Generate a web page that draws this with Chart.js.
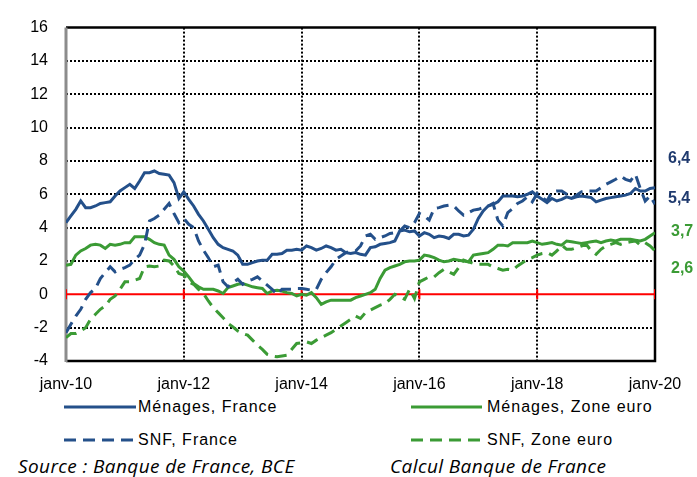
<!DOCTYPE html>
<html>
<head>
<meta charset="utf-8">
<script src="https://cdn.jsdelivr.net/npm/chart.js@4"></script>
<style>
  body { margin: 0; background: #fff; font-family: "Liberation Sans", Arial, sans-serif; }
  #wrap { position: relative; width: 697px; height: 477px; overflow: hidden; }
  #chart { position: absolute; left: 0; top: 0; }
  .end { position: absolute; font-weight: bold; font-size: 16px; line-height: 16px; }
  .leg { position: absolute; font-size: 16px; letter-spacing: 1px; line-height: 16px; color: #000; }
  .src { position: absolute; font-family: "Open Sans", Lato, sans-serif; font-style: italic; font-size: 19px; letter-spacing: 0.4px; line-height: 20px; color: #000; }
  svg { position: absolute; }
</style>
</head>
<body>
<div id="wrap">
  <canvas id="chart" width="697" height="395"></canvas>

  <div class="end" style="left:668px;top:150px;color:#1F3A6E">6,4</div>
  <div class="end" style="left:668px;top:190px;color:#1F3A6E">5,4</div>
  <div class="end" style="left:671px;top:223px;color:#3B9B35">3,7</div>
  <div class="end" style="left:671px;top:260px;color:#3B9B35">2,6</div>

  <svg style="left:0;top:395px" width="697" height="60">
    <line x1="64" y1="12" x2="136" y2="12" stroke="#24508A" stroke-width="3"/>
    <line x1="64" y1="45" x2="136" y2="45" stroke="#24508A" stroke-width="3" stroke-dasharray="12 7"/>
    <line x1="411" y1="12" x2="482" y2="12" stroke="#3B9B35" stroke-width="3"/>
    <line x1="411" y1="45" x2="482" y2="45" stroke="#3B9B35" stroke-width="3" stroke-dasharray="12 7"/>
  </svg>
  <div class="leg" style="left:138px;top:399px">Ménages, France</div>
  <div class="leg" style="left:138px;top:432px">SNF, France</div>
  <div class="leg" style="left:487px;top:399px">Ménages, Zone euro</div>
  <div class="leg" style="left:487px;top:432px">SNF, Zone euro</div>

  <div class="src" style="left:18px;top:456px">Source : Banque de France, BCE</div>
  <div class="src" style="left:390px;top:456px">Calcul Banque de France</div>
</div>

<script>
// Taux de croissance annuel (%) des crédits, mensuel de janv-10 à janv-20
const xTickLabels = ['janv-10', 'janv-12', 'janv-14', 'janv-16', 'janv-18', 'janv-20'];
const yTicks = [-4, -2, 0, 2, 4, 6, 8, 10, 12, 14, 16];

const menagesFrance = [
  4.3, 4.7, 5.1, 5.6, 5.2, 5.2, 5.3, 5.45, 5.5, 5.55, 5.9, 6.2,
  6.4, 6.6, 6.35, 6.8, 7.3, 7.3, 7.4, 7.25, 7.2, 7.15, 6.7, 5.75,
  6.15, 5.7, 5.3, 4.8, 4.4, 3.9, 3.4, 3.0, 2.8, 2.7, 2.6, 2.35,
  1.8, 1.8, 1.9, 2.0, 2.05, 2.05, 2.4, 2.4, 2.45, 2.65, 2.65, 2.7,
  2.65, 2.9, 2.8, 2.65, 2.75, 2.9, 2.8, 2.65, 2.7, 2.5, 2.45, 2.5,
  2.4, 2.35, 2.8, 2.85, 3.0, 3.05, 3.1, 3.2, 3.8, 3.85, 3.75, 3.8,
  3.5, 3.7, 3.6, 3.4, 3.5, 3.45, 3.35, 3.6, 3.6, 3.5, 3.55, 3.9,
  4.55, 5.0, 5.3, 5.4, 5.55, 5.9, 5.9, 5.9, 5.85, 5.9, 6.0, 6.15,
  5.9, 5.7, 5.5, 5.75, 5.6, 5.7, 5.85, 5.75, 5.85, 5.9, 5.85, 5.8,
  5.55, 5.65, 5.75, 5.8, 5.85, 5.9, 5.95, 6.05, 6.35, 6.2, 6.2, 6.35,
  6.4
];

const snfFrance = [
  -2.3, -1.8, -1.3, -0.9, -0.3, 0.1, 0.35, 0.95, 1.3, 1.65, 1.35, 1.5,
  1.6, 1.75, 2.1, 2.35, 3.0, 4.4, 4.55, 4.75, 5.1, 5.45, 4.85, 4.3,
  4.55, 4.2, 4.0, 3.2, 2.65, 2.2, 1.65, 1.75, 0.75, 0.45, 0.7, 0.9,
  0.6, 0.8, 0.9, 1.05, 0.8, 0.55, 0.3, 0.0, 0.3, 0.3, 0.3, 0.35,
  0.35, 0.3, 0.25, 0.3, 0.9, 1.3, 1.65, 2.1, 2.3, 2.5, 2.6, 2.6,
  2.9, 3.5, 3.6, 3.3, 3.4, 3.5, 3.65, 3.7, 3.8, 4.1, 4.0, 4.3,
  4.85, 4.7, 4.45, 5.15, 5.2, 5.3, 5.35, 5.3, 5.0, 4.75, 4.9, 5.05,
  5.1, 5.2, 5.3, 5.45, 4.45, 4.1, 4.9, 5.15, 5.45, 5.6, 5.85, 5.55,
  6.05, 5.8, 5.6, 6.15, 6.2, 6.2, 6.0, 5.75, 5.95, 6.15, 6.2, 6.2,
  6.2, 6.4, 6.6, 6.75, 6.9, 7.1, 6.9, 6.8, 7.2, 6.35, 5.6, 5.9,
  5.4
];

const menagesZE = [
  1.75, 1.8, 2.35, 2.6, 2.75, 2.95, 3.0, 2.95, 2.75, 3.0, 2.95, 3.0,
  3.1, 3.1, 3.45, 3.45, 3.45, 3.3, 3.1, 3.0, 2.95, 2.35, 2.1, 1.65,
  1.4, 1.05, 0.65, 0.45, 0.3, 0.3, 0.3, 0.2, 0.05, 0.4, 0.5, 0.6,
  0.65, 0.55, 0.45, 0.4, 0.35, 0.05, 0.2, 0.25, 0.2, 0.1, 0.05, -0.1,
  0.0, -0.05, 0.1, -0.2, -0.6, -0.45, -0.35, -0.35, -0.35, -0.35, -0.35, -0.2,
  -0.1, 0.0, 0.1, 0.3, 0.95, 1.45, 1.6, 1.7, 1.8, 1.95, 2.0, 2.0,
  2.05, 2.35, 2.3, 2.2, 2.05, 1.95, 2.0, 2.1, 2.05, 2.0, 1.95, 2.35,
  2.4, 2.45, 2.5, 2.7, 2.95, 2.95, 2.9, 3.1, 3.1, 3.1, 3.1, 3.2,
  3.1, 3.0, 3.05, 3.1, 3.0, 2.95, 3.2, 3.15, 3.1, 3.05, 3.1, 3.15,
  3.2, 3.1, 3.2, 3.25, 3.2, 3.3, 3.3, 3.3, 3.25, 3.2, 3.3, 3.5,
  3.7
];

const snfZE = [
  -2.6, -2.35, -2.35, -2.2, -2.0, -1.5, -1.2, -0.9, -0.7, -0.3, -0.1, 0.3,
  0.75, 0.75, 0.85, 0.95, 1.65, 1.7, 1.65, 1.7, 2.05, 2.0, 1.7, 1.25,
  1.15, 0.75, 0.6, 0.3, 0.05, -0.4, -0.8, -1.1, -1.4, -1.75, -1.95, -2.2,
  -2.35, -2.45, -2.75, -3.05, -3.3, -3.6, -3.7, -3.75, -3.7, -3.65, -3.3, -2.95,
  -2.9, -2.85, -2.95, -2.75, -2.6, -2.45, -2.3, -2.1, -1.9, -1.7, -1.5, -1.3,
  -1.45, -1.1, -0.95, -0.8, -0.65, -0.55, -0.3, 0.0, -0.15, -0.3, 0.3, -0.25,
  0.75, 0.9, 1.05, 1.05, 1.3, 1.5, 1.35, 1.2, 1.6, 2.05, 1.95, 1.85,
  1.8, 1.8, 1.8, 1.65, 1.55, 1.45, 1.5, 1.45, 1.7, 1.9, 2.1, 2.2,
  2.35, 2.45, 2.5, 2.35, 2.6, 2.95, 2.7, 2.7, 2.8, 2.9, 3.0, 2.6,
  2.4, 2.7, 2.9, 3.0, 3.1, 3.0, 3.1, 3.15, 3.2, 2.95, 3.1, 2.9,
  2.6
];

const BLEU = '#24508A';
const VERT = '#3B9B35';

// les séries sont mensuelles : x = nombre de mois depuis janv-10
function enPoints(valeurs) {
    return valeurs.map((v, i) => ({ x: i, y: v }));
}

function serie(label, valeurs, couleur, pointille) {
    return {
        label: label,
        data: enPoints(valeurs),
        borderColor: couleur,
        borderWidth: 3,
        borderDash: pointille ? [12, 7] : [],
        pointRadius: 0,
        tension: 0,
        fill: false
    };
}

// ligne du zéro (rouge) avec petites marques à chaque graduation
const ligneZero = {
    label: 'zero',
    data: xTickLabels.map((_, i) => ({ x: i * 24, y: 0 })),
    borderColor: '#FF0000',
    borderWidth: 2,
    pointStyle: 'line',
    rotation: 90,
    pointRadius: 5,
    pointBorderColor: '#FF0000',
    pointBorderWidth: 2,
    tension: 0
};

// quadrillage en pointillés + cadre
const cadre = {
    id: 'cadre',
    beforeDatasetsDraw(chart) {
        const { ctx, chartArea, scales } = chart;
        ctx.save();
        ctx.strokeStyle = '#000';
        ctx.lineWidth = 2;
        ctx.setLineDash([2, 2]);
        yTicks.forEach(v => {
            if (v === 0 || v === 16 || v === -4) return;
            const py = Math.round(scales.y.getPixelForValue(v));
            ctx.beginPath();
            ctx.moveTo(chartArea.left, py);
            ctx.lineTo(chartArea.right, py);
            ctx.stroke();
        });
        xTickLabels.forEach((_, i) => {
            if (i === 0 || i === xTickLabels.length - 1) return;
            const px = Math.round(scales.x.getPixelForValue(i * 24));
            ctx.beginPath();
            ctx.moveTo(px, chartArea.top);
            ctx.lineTo(px, chartArea.bottom);
            ctx.stroke();
        });
        ctx.setLineDash([]);
        ctx.lineWidth = 2.5;
        ctx.beginPath();
        ctx.moveTo(chartArea.left, chartArea.top);
        ctx.lineTo(chartArea.right, chartArea.top);
        ctx.lineTo(chartArea.right, chartArea.bottom);
        ctx.lineTo(chartArea.left, chartArea.bottom);
        ctx.stroke();
        ctx.strokeStyle = '#8C8C8C';
        ctx.lineWidth = 3;
        ctx.beginPath();
        ctx.moveTo(chartArea.left, chartArea.top);
        ctx.lineTo(chartArea.left, chartArea.bottom + 1);
        ctx.stroke();
        ctx.restore();
    }
};

const police = { family: '"Liberation Sans", Arial, sans-serif', size: 16 };

new Chart(document.getElementById('chart'), {
    type: 'line',
    data: {
        datasets: [
            serie('Ménages, France', menagesFrance, BLEU, false),
            serie('SNF, France', snfFrance, BLEU, true),
            serie('Ménages, Zone euro', menagesZE, VERT, false),
            serie('SNF, Zone euro', snfZE, VERT, true),
            ligneZero
        ]
    },
    options: {
        responsive: false,
        animation: false,
        layout: { padding: { top: 20, right: 42, left: 0, bottom: 0 } },
        plugins: {
            legend: { display: false },
            tooltip: { enabled: false }
        },
        scales: {
            x: {
                type: 'linear',
                min: 0,
                max: 120,
                afterFit: s => { s.height = 34; },
                afterBuildTicks: s => { s.ticks = xTickLabels.map((_, i) => ({ value: i * 24 })); },
                ticks: {
                    color: '#000',
                    font: police,
                    padding: 14,
                    maxRotation: 0,
                    callback: v => xTickLabels[v / 24]
                },
                grid: { display: false, drawTicks: false },
                border: { display: false }
            },
            y: {
                min: -4,
                max: 16,
                afterFit: s => { s.width = 66; },
                afterBuildTicks: s => { s.ticks = yTicks.map(v => ({ value: v })); },
                ticks: {
                    color: '#000',
                    font: police,
                    padding: 18
                },
                grid: { display: false, drawTicks: false },
                border: { display: false }
            }
        }
    },
    plugins: [cadre]
});
</script>
</body>
</html>
